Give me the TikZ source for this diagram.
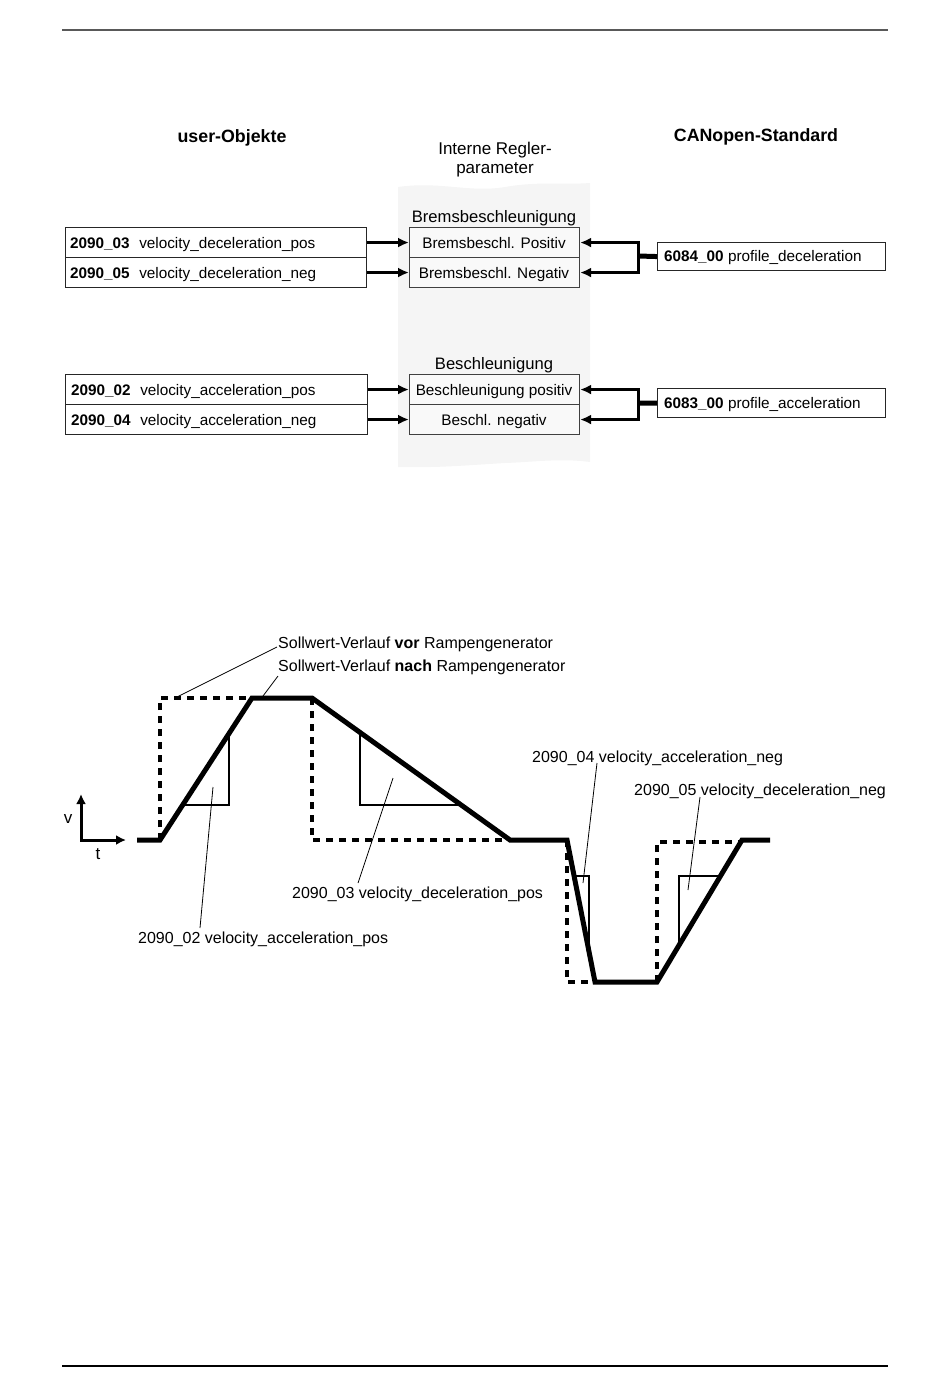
\documentclass[tikz,border=0pt]{standalone}
\usepackage{fontspec}
\setmainfont{Liberation Sans}
\usetikzlibrary{arrows.meta}
\begin{document}
\begin{tikzpicture}[x=1pt,y=-1pt,
  boxtxt/.style={font=\fontsize{15.3}{18}\selectfont, inner sep=0pt},
  charttxt/.style={font=\fontsize{16}{19}\selectfont, inner sep=0pt, anchor=base west},
  ttl/.style={font=\fontsize{17.8}{21}\selectfont\bfseries, inner sep=0pt, anchor=base},
  subttl/.style={font=\fontsize{16.6}{20}\selectfont, inner sep=0pt, anchor=base},
  objbox/.style={draw=black!85, line width=1.1pt, minimum height=30, inner sep=0pt, anchor=north west},
  parbox/.style={draw=black!75, fill=gray!5, line width=1.1pt, minimum width=170, minimum height=30, inner sep=0pt, anchor=north west},
  conn/.style={line width=3pt, -{Latex[length=11pt,width=10pt]}},
  bracket/.style={line width=3pt, line join=miter, {Latex[length=11pt,width=10pt]}-{Latex[length=11pt,width=10pt]}},
  stub/.style={line width=5pt},
  ramp/.style={line width=5pt, line join=miter},
  setp/.style={line width=4pt, dash pattern=on 7pt off 6pt},
  tri/.style={line width=2pt},
  leader/.style={line width=0.8pt},
]
\useasboundingbox (0,0) rectangle (950,1397);
% page rules
\draw[line width=2pt, black!65] (62,30) -- (888,30);
\draw[line width=1.5pt] (62,1366) -- (888,1366);

% gray panel
\fill[gray!8] (398,187) .. controls (440,181) and (470,193) .. (505,187)
  .. controls (540,181) and (565,185) .. (590,183) -- (590,462)
  .. controls (560,458) and (535,462) .. (505,463)
  .. controls (470,465) and (440,468) .. (398,467) -- cycle;

% titles
\node[ttl] (tuser) at (232,142) {user-Objekte};
\node[ttl] (tcan) at (756,141) {CANopen-Standard};
\node[font=\fontsize{17}{19}\selectfont, inner sep=0pt, align=center, anchor=base] (tint) at (495,173) {Interne Regler-\\parameter};

% --- deceleration group
\node[objbox, minimum width=301] (u3) at (65,227) {};
\node[objbox, minimum width=301] (u5) at (65,257) {};
\node[boxtxt, anchor=base west] (u3t) at (70,248) {\textbf{2090\_03}\hspace{9.5pt}velocity\_deceleration\_pos};
\node[boxtxt, anchor=base west] (u5t) at (70,278) {\textbf{2090\_05}\hspace{9.5pt}velocity\_deceleration\_neg};

\node[subttl] (tbrems) at (494,222) {Bremsbeschleunigung};
\node[parbox] (b3) at (409,227) {};
\node[parbox] (b5) at (409,257) {};
\node[boxtxt, anchor=base] (b3t) at (494,248) {Bremsbeschl. Positiv};
\node[boxtxt, anchor=base] (b5t) at (494,278) {Bremsbeschl. Negativ};

\node[objbox, minimum width=228, minimum height=28] (p84) at (657,242) {};
\node[boxtxt, anchor=base west] (p84t) at (664,261) {\textbf{6084\_00} profile\_deceleration};

\draw[conn] (u3.east) -- (b3.west);
\draw[conn] (u5.east) -- (b5.west);
\coordinate (j84) at (638,256);
\draw[bracket] (b3.east) -- (j84 |- b3.east) -- (j84 |- b5.east) -- (b5.east);
\draw[stub] (j84) -- (p84.west);

% --- acceleration group
\node[objbox, minimum width=302] (u2) at (65,374) {};
\node[objbox, minimum width=302] (u4) at (65,404) {};
\node[boxtxt, anchor=base west] (u2t) at (71,395) {\textbf{2090\_02}\hspace{9.5pt}velocity\_acceleration\_pos};
\node[boxtxt, anchor=base west] (u4t) at (71,425) {\textbf{2090\_04}\hspace{9.5pt}velocity\_acceleration\_neg};

\node[subttl] (tbes) at (494,369) {Beschleunigung};
\node[parbox] (b2) at (409,374) {};
\node[parbox] (b4) at (409,404) {};
\node[boxtxt, anchor=base] (b2t) at (494,395) {Beschleunigung positiv};
\node[boxtxt, anchor=base] (b4t) at (494,425) {Beschl. negativ};

\node[objbox, minimum width=228, minimum height=29] (p83) at (657,388) {};
\node[boxtxt, anchor=base west] (p83t) at (664,408) {\textbf{6083\_00} profile\_acceleration};

\draw[conn] (u2.east) -- (b2.west);
\draw[conn] (u4.east) -- (b4.west);
\coordinate (j83) at (638,403);
\draw[bracket] (b2.east) -- (j83 |- b2.east) -- (j83 |- b4.east) -- (b4.east);
\draw[stub] (j83) -- (p83.west);

% ===== chart =====
% axes
\draw[line width=3pt, line join=miter, {Latex[length=10pt,width=10pt]}-{Latex[length=10pt,width=10pt]}] (81,794) -- (81,840) -- (126,840);
\node[font=\fontsize{17}{20}\selectfont, inner sep=0pt] (lv) at (68,819) {v};
\node[font=\fontsize{17}{20}\selectfont, inner sep=0pt] (lt) at (98,854) {t};

% set-point before ramp generator (dashed)
\draw[setp] (160,840) -- (160,698) -- (252,698);
\draw[setp] (312,698) -- (312,840) -- (510,840);
\draw[setp] (567,840) -- (567,982) -- (595,982);
\draw[setp] (657,982) -- (657,842) -- (742,842);

% set-point after ramp generator (solid)
\draw[ramp] (137,840) -- (160,840) -- (252,698) -- (312,698) -- (510,840) -- (567,840)
  -- (595,982) -- (657,982) -- (742,840) -- (770,840);

% slope triangles
\draw[tri] (183,805) -- (229,805) -- (229,734);
\draw[tri] (360,732) -- (360,805) -- (461,805);
\draw[tri] (574,876) -- (589,876) -- (589,952);
\draw[tri] (679,945) -- (679,876) -- (720.5,876);

% labels
\node[charttxt] (lvor) at (278,648) {Sollwert-Verlauf \textbf{vor} Rampengenerator};
\node[charttxt] (lnach) at (278,671) {Sollwert-Verlauf \textbf{nach} Rampengenerator};
\node[charttxt] (l03) at (292,898) {2090\_03 velocity\_deceleration\_pos};
\node[charttxt] (l02) at (138,943) {2090\_02 velocity\_acceleration\_pos};
\node[charttxt] (l04) at (532,762) {2090\_04 velocity\_acceleration\_neg};
\node[charttxt] (l05) at (634,795) {2090\_05 velocity\_deceleration\_neg};

% leaders
\coordinate (e1) at (277,647); \coordinate (f1) at (175,698);
\coordinate (e2) at (278,676); \coordinate (f2) at (263,696);
\coordinate (e3) at (358,883); \coordinate (f3) at (393,778);
\coordinate (e4) at (200,928); \coordinate (f4) at (213,787);
\coordinate (e5) at (597,763); \coordinate (f5) at (583,883);
\coordinate (e6) at (700,797); \coordinate (f6) at (688,890);
\draw[leader] (e1) -- (f1);
\draw[leader] (e2) -- (f2);
\draw[leader] (e3) -- (f3);
\draw[leader] (e4) -- (f4);
\draw[leader] (e5) -- (f5);
\draw[leader] (e6) -- (f6);
\end{tikzpicture}
\end{document}
